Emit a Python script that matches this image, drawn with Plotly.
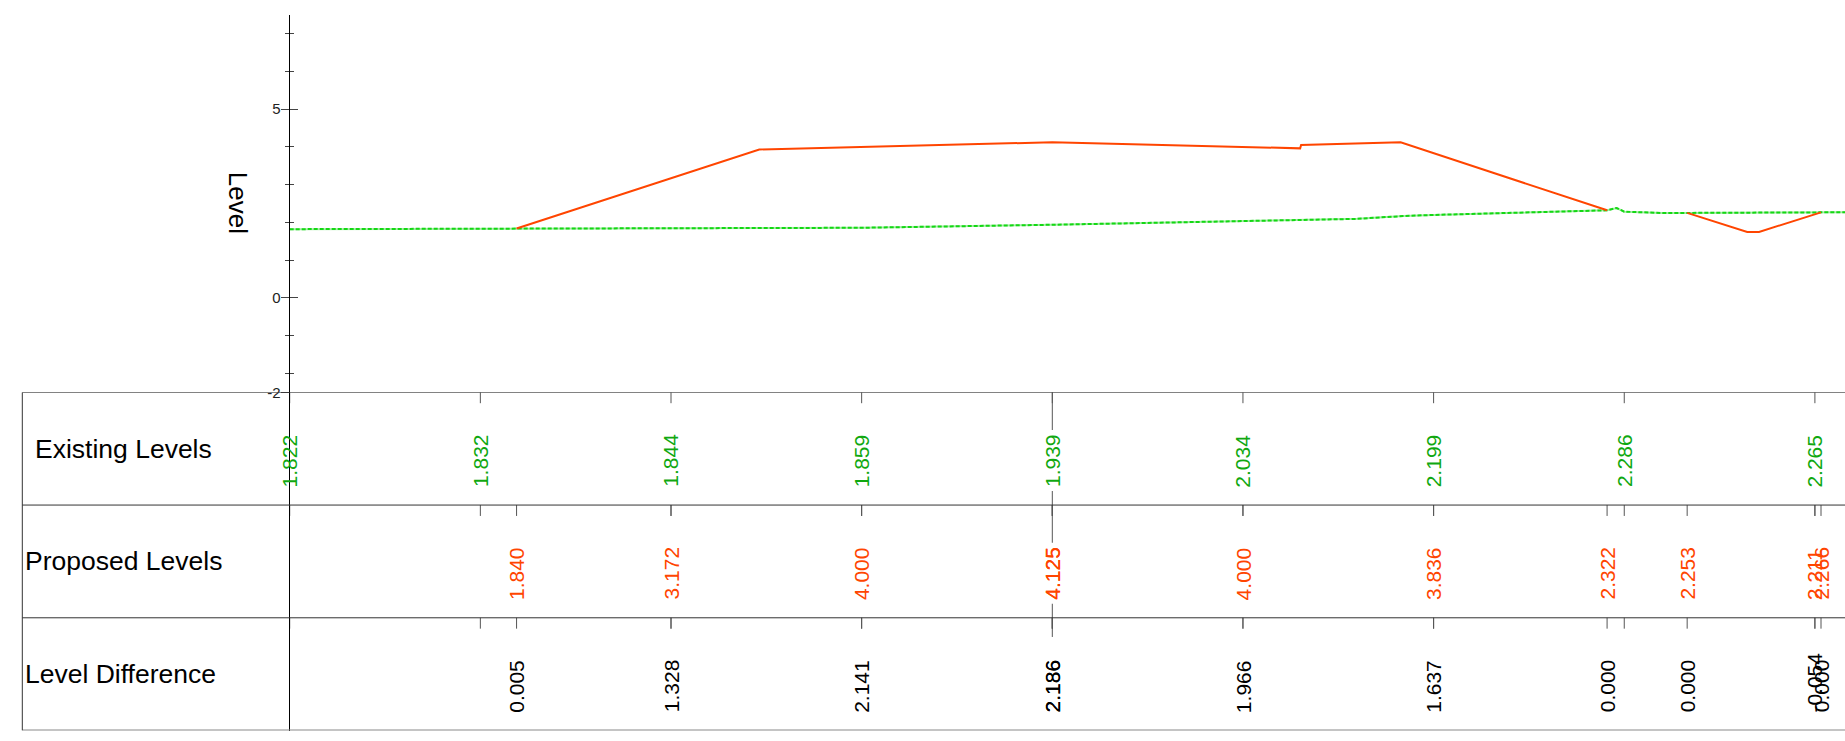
import plotly.graph_objects as go

# ---------------- data ----------------
# existing ground levels shown in the table (chainage in m)
exist_ch = [0, 10, 20, 30, 40, 50, 60, 70, 80]
exist_lv = [1.822, 1.832, 1.844, 1.859, 1.939, 2.034, 2.199, 2.286, 2.265]

# existing ground profile (dashed green line)
ground_ch = [0, 10, 20, 30, 40, 50, 56.0, 58.4, 60, 69.1, 69.6, 70, 72.0, 73.3, 80, 80.32, 81.6]
ground_lv = [1.822, 1.832, 1.844, 1.859, 1.939, 2.034, 2.095, 2.17, 2.199, 2.322, 2.383, 2.286,
             2.25, 2.253, 2.265, 2.266, 2.27]

# proposed design profile (red line), two separate strings
design1_ch = [11.9, 24.63, 40, 53.0, 53.05, 58.27, 69.1]
design1_lv = [1.840, 3.933, 4.125, 3.9625, 4.054, 4.122, 2.322]
design2_ch = [73.3, 76.45, 77.07, 80.32]
design2_lv = [2.253, 1.75, 1.75, 2.266]

# proposed levels and level differences shown in the table
prop_ch = [11.9, 20, 30, 40, 40, 50, 60, 69.1, 73.3, 80, 80.32]
prop_lv = [1.840, 3.172, 4.000, 4.125, 4.125, 4.000, 3.836, 2.322, 2.253, 2.211, 2.266]
diff_lv = [0.005, 1.328, 2.141, 2.186, 2.186, 1.966, 1.637, 0.000, 0.000, -0.054, 0.000]

row_names = ["Existing Levels", "Proposed Levels", "Level Difference"]
y_tickvals = [-2.5, 0, 5]
y_ticktext = ["-2", "0", "5"]
y_minor_vals = [-2, -1, 1, 2, 3, 4, 6, 7]
cursor_ch = 40

# ---------------- layout constants ----------------
W, H = 1845, 741


def px_x(p):
    return p / W


def px_y(p):
    return 1 - p / H


X0 = px_x(289.7)
Y_TOP = px_y(15)
Y_SPLIT = px_y(396.6)
Y_BOT = px_y(738.5)
TABLE_LEFT = px_x(22.3)
ROW_PX = (738.5 - 396.6) / 3
TICK_LEN = 11 / ROW_PX
LABEL_OFF = 14 / ROW_PX
X_MAX = (W - 289.7) / 19.065

FONT = "Liberation Sans, Arial, sans-serif"
GREEN_TXT = "#10a810"
RED = "#ff4500"

fig = go.Figure()

# existing ground: light base + darker dashes
fig.add_trace(go.Scatter(x=ground_ch, y=ground_lv, mode="lines",
                         line=dict(color="#a6eca6", width=2), hoverinfo="skip"))
fig.add_trace(go.Scatter(x=ground_ch, y=ground_lv, mode="lines",
                         line=dict(color="#14d814", width=2, dash="4px,2px"), hoverinfo="skip"))
# proposed design
for cx, cy in ((design1_ch, design1_lv), (design2_ch, design2_lv)):
    fig.add_trace(go.Scatter(x=cx, y=cy, mode="lines",
                             line=dict(color=RED, width=2), hoverinfo="skip"))

# dummy trace so the overlay axis (inside ticks) is drawn
fig.add_trace(go.Scatter(x=[None], y=[None], yaxis="y2", mode="lines", hoverinfo="skip"))


def tick_segments(chs, top):
    xs, ys = [], []
    for c in chs:
        xs += [c, c, None]
        ys += [top, top - TICK_LEN, None]
    return xs, ys


union_ch = exist_ch + prop_ch
for chs, top in ((exist_ch, 3), (union_ch, 2), (union_ch, 1)):
    tx, ty = tick_segments(chs, top)
    fig.add_trace(go.Scatter(x=tx, y=ty, yaxis="y3", mode="lines",
                             line=dict(color="#555555", width=1), hoverinfo="skip"))

annotations = []


def value_labels(chs, vals, row_bottom, color):
    seen = set()
    for c, v in zip(chs, vals):
        first_at_cursor = (c == cursor_ch and c not in seen)
        seen.add(c)
        annotations.append(dict(
            x=c, xref="x", y=row_bottom + LABEL_OFF, yref="y3", text=f"{v:.3f}",
            textangle=-90, xanchor="center", yanchor="bottom",
            showarrow=False, borderpad=4, borderwidth=0,
            bgcolor="white" if first_at_cursor else "rgba(0,0,0,0)",
            font=dict(family=FONT, size=21, color=color)))


value_labels(exist_ch, exist_lv, 2, GREEN_TXT)
value_labels(prop_ch, prop_lv, 1, RED)
value_labels(prop_ch, diff_lv, 0, "black")

row_x = [px_x(34.7), px_x(25.3), px_x(25.4)]
for name, xx, yc in zip(row_names, row_x, (2.5, 1.5, 0.5)):
    annotations.append(dict(
        x=xx, xref="paper", y=yc, yref="y3", text=name, xanchor="left", yanchor="middle",
        showarrow=False, borderpad=0, borderwidth=0,
        font=dict(family=FONT, size=26.5, color="black")))

annotations.append(dict(
    x=px_x(238), xref="paper", y=px_y(205), yref="paper", text="Level", textangle=90,
    xanchor="center", yanchor="middle", showarrow=False, borderpad=0, borderwidth=0,
    font=dict(family=FONT, size=26, color="black")))

shapes = []
for yv in (3, 2, 1):
    shapes.append(dict(type="line", xref="paper", x0=TABLE_LEFT, x1=1, yref="y3", y0=yv, y1=yv,
                       line=dict(color="#333333", width=1)))
shapes.append(dict(type="line", xref="paper", x0=TABLE_LEFT, x1=1, yref="y3", y0=0, y1=0,
                   line=dict(color="#8a8a8a", width=2)))
shapes.append(dict(type="line", xref="paper", x0=TABLE_LEFT, x1=TABLE_LEFT, yref="y3", y0=0, y1=3,
                   line=dict(color="#333333", width=1)))
shapes.append(dict(type="line", xref="x", x0=cursor_ch, x1=cursor_ch, yref="y3",
                   y0=3, y1=1 - 19.4 / ROW_PX, line=dict(color="#555555", width=1), layer="below"))

fig.update_layout(
    width=W, height=H, autosize=False,
    margin=dict(l=0, r=0, t=0, b=0, pad=0),
    paper_bgcolor="white", plot_bgcolor="white",
    showlegend=False,
    font=dict(family=FONT),
    xaxis=dict(domain=[X0, 1], range=[0, X_MAX], visible=False, fixedrange=True),
    yaxis=dict(domain=[Y_SPLIT, Y_TOP], range=[-2.5, 7.5], anchor="x",
               showline=True, linecolor="black", linewidth=1,
               ticks="outside", ticklen=8, tickcolor="#444444", tickwidth=1,
               tickmode="array", tickvals=y_tickvals, ticktext=y_ticktext,
               tickfont=dict(family=FONT, size=15, color="#222222"),
               ticklabelstandoff=-3,
               showgrid=False, zeroline=False,
               minor=dict(tickmode="array", tickvals=y_minor_vals, ticks="outside",
                          ticklen=4, tickcolor="#444444", showgrid=False)),
    yaxis2=dict(overlaying="y", range=[-2.5, 7.5], anchor="x", side="left",
                ticks="inside", ticklen=8, tickcolor="#444444", tickwidth=1,
                tickmode="array", tickvals=[0, 5], showticklabels=False,
                showline=False, showgrid=False, zeroline=False,
                minor=dict(tickmode="array", tickvals=y_minor_vals, ticks="inside",
                           ticklen=4, tickcolor="#444444", showgrid=False)),
    yaxis3=dict(domain=[Y_BOT, Y_SPLIT], range=[0, 3], anchor="x",
                showline=True, linecolor="black", linewidth=1,
                ticks="", showticklabels=False, showgrid=False, zeroline=False),
    annotations=annotations,
    shapes=shapes,
)

# remove the default 8px page margin so the figure fills the window exactly
fig.write_html("out.html",
               config={"displayModeBar": False, "staticPlot": True},
               post_script="document.body.style.margin='0px';document.body.style.overflow='hidden';")
